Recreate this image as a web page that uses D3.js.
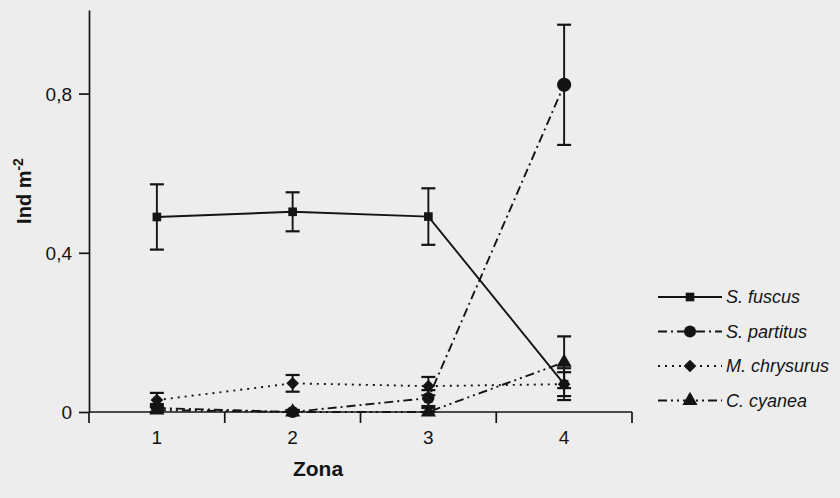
<!DOCTYPE html>
<html><head><meta charset="utf-8">
<script src="https://cdn.jsdelivr.net/npm/d3@7"></script>
<style>html,body{margin:0;padding:0;background:#ededed;}svg{display:block;}</style>
</head><body>
<svg id="c" width="840" height="498"></svg>
<script>
const zones = ["1", "2", "3", "4"];
const speciesNames = ["S. fuscus", "S. partitus", "M. chrysurus", "C. cyanea"];
const fuscus = [0.49, 0.503, 0.491, 0.07];
const fuscusErr = [0.082, 0.049, 0.071, 0.04];
const partitus = [0.01, 0.0, 0.035, 0.822];
const partitusErr = [0.01, 0.005, 0.02, 0.151];
const chrysurus = [0.03, 0.072, 0.065, 0.07];
const chrysurusErr = [0.018, 0.021, 0.023, 0.03];
const cyanea = [0.005, 0.0, 0.0, 0.125];
const cyaneaErr = [0.01, 0.005, 0.01, 0.065];
const yTicks = [0, 0.4, 0.8];

const series = [
  {name: speciesNames[0], vals: fuscus, err: fuscusErr, dash: null, sym: d3.symbolSquare, size: 75, rot: 0},
  {name: speciesNames[1], vals: partitus, err: partitusErr, dash: "9,4,2,4", sym: d3.symbolCircle, size: 115, rot: 0},
  {name: speciesNames[2], vals: chrysurus, err: chrysurusErr, dash: "2,5", sym: d3.symbolSquare, size: 80, rot: 45},
  {name: speciesNames[3], vals: cyanea, err: cyaneaErr, dash: "9,4,2,4,2,4", sym: d3.symbolTriangle, size: 100, rot: 0}
];

const svg = d3.select("#c");
const ink = "#141414";
const font = "Liberation Sans, Arial, sans-serif";
const x = d3.scaleBand().domain(zones).range([89, 632]).paddingInner(0).paddingOuter(0);
const y = d3.scaleLinear().domain([0, 1.01]).range([412, 10]);
const cx = z => x(z) + x.bandwidth() / 2;

// x axis
const xAxis = svg.append("g").attr("transform", `translate(0,${y(0)})`);
xAxis.append("line").attr("x1", x.range()[0]).attr("x2", x.range()[1]).attr("stroke", ink).attr("stroke-width", 1.7);
const bounds = zones.map(z => x(z)).concat([x.range()[1]]);
xAxis.selectAll("line.t").data(bounds).join("line").attr("class", "t")
  .attr("x1", d => d).attr("x2", d => d).attr("y1", 0).attr("y2", 11).attr("stroke", ink).attr("stroke-width", 1.7);
xAxis.selectAll("text").data(zones).join("text")
  .attr("x", d => cx(d)).attr("y", 19).attr("dy", "0.71em").attr("text-anchor", "middle")
  .attr("font-family", font).attr("font-size", 19).attr("fill", ink).text(d => d);

// y axis
const yAxis = svg.append("g").attr("transform", `translate(${x.range()[0]},0)`)
  .call(d3.axisLeft(y).tickValues(yTicks).tickSize(10).tickSizeOuter(0).tickPadding(7)
    .tickFormat(d => d === 0 ? "0" : d3.format(".1f")(d).replace(".", ",")));
yAxis.select(".domain").attr("stroke", ink).attr("stroke-width", 1.7);
yAxis.selectAll(".tick line").attr("stroke", ink).attr("stroke-width", 1.7);
yAxis.selectAll(".tick text").attr("font-family", font).attr("font-size", 19).attr("fill", ink).attr("dy", "0.36em");

// axis titles
svg.append("text").attr("x", 318).attr("y", 476).attr("text-anchor", "middle")
  .attr("font-family", font).attr("font-size", 21).attr("font-weight", "bold").attr("fill", ink).text("Zona");
const yt = svg.append("text").attr("transform", "translate(31,191) rotate(-90)").attr("text-anchor", "middle")
  .attr("font-family", font).attr("font-size", 20).attr("fill", ink).attr("font-weight", "600");
yt.append("tspan").text("Ind m");
yt.append("tspan").attr("dy", -8).attr("font-size", 14).text("-2");

// lines, error bars, markers
const line = d3.line().x((d, i) => cx(zones[i])).y(d => y(d));
series.forEach(s => {
  svg.append("path").attr("d", line(s.vals)).attr("fill", "none").attr("stroke", ink)
    .attr("stroke-width", 1.9).attr("stroke-dasharray", s.dash);
});
series.forEach(s => {
  const g = svg.append("g");
  s.vals.forEach((v, i) => {
    const xc = cx(zones[i]);
    const top = y(v + s.err[i]), bot = y(Math.max(0, v - s.err[i]));
    g.append("line").attr("x1", xc).attr("x2", xc).attr("y1", top).attr("y2", bot).attr("stroke", ink).attr("stroke-width", 1.9);
    [top, bot].forEach(yy => g.append("line").attr("x1", xc - 7).attr("x2", xc + 7).attr("y1", yy).attr("y2", yy).attr("stroke", ink).attr("stroke-width", 2.2));
  });
});
series.forEach(s => {
  svg.append("g").selectAll("path").data(s.vals).join("path")
    .attr("transform", (d, i) => `translate(${cx(zones[i])},${y(d)}) rotate(${s.rot})`)
    .attr("d", (d, i) => d3.symbol().type(s.sym).size(s.name === speciesNames[1] && i === 3 ? 160 : s.size)())
    .attr("fill", ink);
});

// legend
const lg = svg.append("g").attr("transform", "translate(658,297)");
series.forEach((s, i) => {
  const row = lg.append("g").attr("transform", `translate(0,${i * 34.5})`);
  row.append("line").attr("x1", 0).attr("x2", 64).attr("stroke", ink).attr("stroke-width", 1.9).attr("stroke-dasharray", s.dash);
  row.append("path").attr("transform", `translate(32,0) rotate(${s.rot})`).attr("d", d3.symbol().type(s.sym).size(s.size)()).attr("fill", ink);
  row.append("text").attr("x", 68).attr("y", 0).attr("dy", "0.36em")
    .attr("font-family", font).attr("font-size", 18).attr("font-style", "italic").attr("fill", ink).text(s.name);
});
</script>
</body></html>
